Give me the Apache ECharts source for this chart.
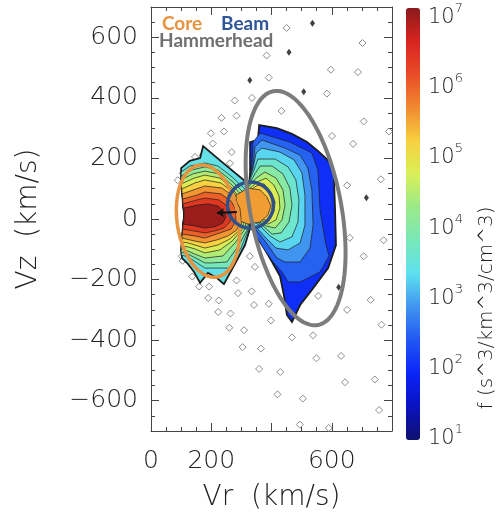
<!DOCTYPE html>
<html>
<head>
<meta charset="utf-8">
<script src="https://cdn.jsdelivr.net/npm/echarts@6.0.0/dist/echarts.min.js"></script>
<style>
  html, body { margin: 0; padding: 0; background: #fff; }
  #chart { width: 500px; height: 529px; }
</style>
</head>
<body>
<div id="chart"></div>
<script>
// axis ticks
const xTickLabels = [0, 200, 600];
const yTickValues = [-600, -400, -200, 0, 200, 400, 600];
const cbarTicks = [1, 2, 3, 4, 5, 6, 7];   // log10 f

// core contours: log10 f of each level and its outline [Vr, Vz] in km/s
const coreLogF = [3.4, 3.75, 4.1, 4.45, 4.8, 5.2, 5.6, 6.0, 6.4, 7.0];
const coreContours = [
  [[100,168],[129,192],[163,201],[173,241],[236,188],[312,125],[329,79],[329,-30],[312,-86],[282,-142],[242,-215],[219,-195],[189,-178],[163,-211],[143,-175],[123,-149],[103,-129],[100,-102],[103,-63],[106,-23],[110,13],[106,50],[103,89],[100,129]],
  [[100,155],[129,175],[179,185],[222,175],[269,139],[315,96],[325,30],[325,-30],[299,-96],[259,-162],[212,-162],[179,-162],[149,-142],[123,-125],[101,-119],[100,-102],[103,-63],[106,-23],[110,13],[106,50],[103,89],[100,129]],
  [[100,142],[136,162],[179,172],[222,162],[269,125],[312,83],[322,23],[322,-30],[292,-86],[252,-142],[202,-145],[179,-145],[149,-129],[123,-116],[100,-109],[100,-102],[103,-63],[106,-23],[110,13],[106,50],[103,89],[100,129]],
  [[100,129],[139,149],[179,158],[226,149],[269,112],[309,69],[319,20],[312,-33],[279,-79],[239,-122],[179,-129],[146,-116],[123,-106],[100,-99],[103,-63],[106,-23],[110,13],[106,50],[103,89]],
  [[101,116],[143,135],[179,145],[229,135],[272,99],[302,56],[312,13],[302,-36],[269,-73],[229,-102],[179,-112],[146,-99],[123,-92],[101,-89],[103,-63],[106,-23],[110,13],[106,50],[103,89]],
  [[102,99],[146,119],[179,129],[232,119],[276,86],[299,46],[305,7],[295,-36],[262,-66],[222,-86],[179,-96],[146,-86],[123,-79],[102,-76],[103,-63],[106,-23],[110,13],[106,50],[103,89]],
  [[104,83],[149,99],[179,109],[236,102],[276,73],[295,36],[299,0],[285,-36],[256,-56],[219,-69],[179,-79],[146,-73],[103,-63],[106,-23],[110,13],[106,50]],
  [[105,66],[153,79],[179,89],[232,83],[266,59],[282,30],[282,-7],[266,-33],[229,-46],[179,-63],[146,-56],[104,-50],[106,-23],[110,13],[106,50]],
  [[106,50],[153,63],[179,69],[226,63],[252,43],[266,20],[262,-10],[242,-30],[209,-40],[179,-46],[146,-40],[105,-33],[106,-23],[110,13]],
  [[108,36],[156,46],[189,50],[222,43],[242,26],[249,7],[239,-13],[212,-26],[179,-30],[146,-23],[107,-17],[110,13]]
];

// beam contours
const beamLogF = [2.0, 2.45, 2.85, 3.25, 3.6, 4.0, 4.4, 4.8, 5.2, 5.55];
const beamContours = [
  [[329,155],[329,254],[355,261],[359,310],[418,300],[468,281],[518,254],[554,225],[594,188],[607,145],[611,30],[614,-86],[588,-162],[534,-234],[495,-284],[468,-340],[451,-317],[441,-251],[428,-188],[402,-142],[375,-96],[349,-56],[329,-23],[322,63]],
  [[335,178],[339,254],[362,284],[461,254],[534,218],[554,162],[561,30],[581,-86],[591,-122],[561,-175],[495,-208],[455,-208],[435,-175],[405,-142],[368,-89],[342,-43],[319,13],[322,79]],
  [[339,178],[345,238],[368,261],[445,234],[495,211],[521,168],[534,96],[538,-20],[528,-96],[495,-142],[445,-142],[418,-129],[388,-86],[355,-43],[315,10],[319,86]],
  [[339,168],[349,218],[368,234],[428,221],[475,195],[501,152],[511,79],[511,-20],[495,-79],[455,-102],[415,-96],[382,-63],[352,-30],[312,10],[315,89]],
  [[342,162],[355,198],[412,198],[455,172],[481,129],[491,63],[488,-10],[468,-59],[428,-76],[395,-56],[362,-23],[312,13],[315,96]],
  [[345,149],[362,175],[402,175],[438,149],[461,102],[468,46],[458,-10],[432,-46],[402,-50],[372,-23],[312,17],[315,96]],
  [[349,135],[378,155],[415,135],[438,96],[445,46],[435,-3],[412,-30],[382,-23],[312,20],[315,96]],
  [[352,122],[382,135],[408,112],[425,76],[428,36],[415,-3],[388,-17],[312,23],[315,89]],
  [[349,109],[375,116],[398,89],[412,56],[408,23],[388,-3],[355,-3],[309,30],[312,83]],
  [[282,79],[322,102],[362,96],[385,73],[398,43],[388,13],[362,-10],[322,-17],[289,-3]]
];

// open diamonds (sparse samples) and black marks, [Vr, Vz]
const openPoints = [
  [450,631],[702,581],[384,540],[597,493],[687,485],[391,467],[584,414],[278,391],[335,400],[284,341],
  [234,334],[433,357],[706,322],[199,283],[242,289],[601,274],[790,289],[205,249],[671,248],[268,221],
  [172,211],[146,205],[262,184],[126,178],[105,151],[89,128],[651,111],[763,131],[660,-62],[772,-70],
  [706,-123],[102,-123],[105,-138],[137,-190],[328,-123],[345,-158],[284,-203],[160,-223],[193,-223],[289,-245],
  [334,-239],[190,-261],[225,-269],[342,-284],[391,-280],[555,-254],[729,-267],[651,-300],[223,-307],[264,-312],
  [398,-335],[765,-349],[260,-359],[309,-367],[468,-391],[538,-384],[304,-423],[365,-428],[549,-460],[631,-452],
  [359,-495],[429,-505],[644,-539],[743,-530],[420,-579],[504,-593],[757,-631],[494,-679],[590,-690]
];
const blackPoints = [[536,646],[458,551],[328,458],[507,420],[715,70],[623,-225]];
const arrowPath = [[285,23],[219,20]];

// population ellipses
const ellipseNames = ['Core', 'Beam', 'Hammerhead'];
const ellipseCenter = [[189,-7],[330,46],[480,36]];
const ellipseAxes = [[187,102],[76,76],[393,151]];
const ellipseTilt = [9, 0, 10.9];   // degrees

const ellipseColors = ['#e8933f', '#2f5088', '#7c7c7c'];
const ellipseWidths = [3.5, 3.5, 4];
const cbarColors = ['#10106e','#0a12c0','#0a24f8','#2058f2','#4094f0','#5ee0f0','#78e8b8',
                    '#9aea88','#d8f058','#f8d040','#f08a30','#e84c26','#d82420','#8a1a1a'];

const font = 'DejaVu Sans';
const axisCol = '#444';
const textCol = '#222';

let levels = [];
coreLogF.forEach((v, i) => levels.push({ v: v, pts: coreContours[i], outer: i === 0 }));
beamLogF.forEach((v, i) => levels.push({ v: v, pts: beamContours[i], outer: i === 0 }));
levels.sort((a, b) => a.v - b.v);
const contourData = levels.map((l, i) => [i, l.v]);

function drawContour(params, api) {
  const lv = levels[params.dataIndex];
  return {
    type: 'polygon',
    shape: { points: lv.pts.map(p => api.coord(p)) },
    style: { fill: api.visual('color'), stroke: '#1c1c1c', lineWidth: lv.outer ? 1.8 : 0.7 }
  };
}

function drawEllipse(params, api) {
  const i = params.dataIndex;
  const c = ellipseCenter[i], ax = ellipseAxes[i];
  const phi = ellipseTilt[i] * Math.PI / 180;
  const pts = [];
  for (let k = 0; k < 120; k++) {
    const t = k / 120 * 2 * Math.PI;
    const vr = c[0] - ax[0] * Math.cos(t) * Math.sin(phi) + ax[1] * Math.sin(t) * Math.cos(phi);
    const vz = c[1] + ax[0] * Math.cos(t) * Math.cos(phi) + ax[1] * Math.sin(t) * Math.sin(phi);
    pts.push(api.coord([vr, vz]));
  }
  return {
    type: 'polygon',
    shape: { points: pts },
    style: { fill: 'none', stroke: ellipseColors[i], lineWidth: ellipseWidths[i] }
  };
}

const tickStyle = { lineStyle: { color: axisCol, width: 1 } };

function frameX(pos, extra) {
  return Object.assign({
    type: 'value', gridIndex: 0, position: pos, min: 0, max: 800, interval: 200,
    axisLine: { onZero: false, lineStyle: { color: axisCol, width: 1 } },
    axisTick: Object.assign({ inside: true, length: 8 }, tickStyle),
    minorTick: Object.assign({ show: true, splitNumber: 4, length: 4 }, tickStyle),
    splitLine: { show: false },
    axisLabel: { show: false }
  }, extra);
}

function frameY(pos, major, extra) {
  const ax = {
    type: 'value', gridIndex: 0, position: pos, min: -700, max: 700,
    axisLine: { show: major, onZero: false, lineStyle: { color: axisCol, width: 1 } },
    splitLine: { show: false },
    axisLabel: { show: false }
  };
  if (major) {
    ax.axisTick = Object.assign({ inside: true, length: 8, customValues: yTickValues }, tickStyle);
  } else {
    ax.interval = 50;
    ax.axisTick = Object.assign({ inside: true, length: 4 }, tickStyle);
  }
  return Object.assign(ax, extra);
}

const chart = echarts.init(document.getElementById('chart'));

const option = {
  animation: false,
  backgroundColor: '#fff',
  grid: [
    { left: 151, top: 7, width: 241, height: 424 },
    { left: 406, top: 15, width: 14, height: 421.5 }
  ],
  xAxis: [
    frameX('bottom', {
      axisLabel: { show: true, customValues: xTickLabels, fontSize: 25, fontFamily: font, fontWeight: 200, color: textCol, margin: 18 },
      name: 'Vr  (km/s)', nameLocation: 'middle', nameGap: 53,
      nameTextStyle: { fontSize: 28, fontFamily: font, fontWeight: 200, color: textCol }
    }),
    frameX('top', {}),
    { type: 'value', gridIndex: 1, show: false, min: 0, max: 1 }
  ],
  yAxis: [
    frameY('left', true, {
      axisLabel: {
        show: true, customValues: yTickValues, fontSize: 25, fontFamily: font, fontWeight: 200, color: textCol, margin: 13,
        formatter: v => (v < 0 ? '\u2212' + (-v) : String(v))
      },
      name: 'Vz  (km/s)', nameLocation: 'middle', nameGap: 108, nameRotate: 90,
      nameTextStyle: { fontSize: 28, fontFamily: font, fontWeight: 200, color: textCol }
    }),
    frameY('left', false, {}),
    frameY('right', true, {}),
    frameY('right', false, {}),
    {
      type: 'value', gridIndex: 1, position: 'right', min: 1, max: 7, interval: 1,
      axisLine: { show: false }, axisTick: { show: false }, splitLine: { show: false },
      axisLabel: {
        margin: 8, customValues: cbarTicks,
        formatter: v => '{b|10}{e|' + v + '}',
        rich: {
          b: { fontSize: 21, fontFamily: font, fontWeight: 200, color: textCol, lineHeight: 26, verticalAlign: 'bottom' },
          e: { fontSize: 13, fontFamily: font, fontWeight: 200, color: textCol, lineHeight: 14, verticalAlign: 'top' }
        }
      }
    }
  ],
  visualMap: {
    type: 'continuous', min: 0.95, max: 7.1, dimension: 1, seriesIndex: 1,
    calculable: false, left: 406, top: 8, itemWidth: 14, itemHeight: 432, padding: 0,
    inRange: { color: cbarColors }
  },
  series: [
    {
      type: 'scatter', xAxisIndex: 0, yAxisIndex: 0, data: openPoints, symbol: 'diamond', symbolSize: 7,
      itemStyle: { color: '#fff', borderColor: '#707070', borderWidth: 1 }, z: 1, silent: true
    },
    {
      type: 'custom', name: 'f', xAxisIndex: 0, yAxisIndex: 0, data: contourData,
      renderItem: drawContour, z: 2, silent: true
    },
    {
      type: 'scatter', xAxisIndex: 0, yAxisIndex: 0, data: blackPoints, symbol: 'diamond', symbolSize: [5, 7],
      itemStyle: { color: '#111' }, z: 3, silent: true
    },
    {
      type: 'custom', name: 'populations', xAxisIndex: 0, yAxisIndex: 0,
      data: ellipseCenter.map((c, i) => [c[0], c[1], ellipseNames[i]]),
      renderItem: drawEllipse, z: 4, silent: true
    },
    {
      type: 'lines', coordinateSystem: 'cartesian2d', xAxisIndex: 0, yAxisIndex: 0,
      data: [{ coords: arrowPath }], symbol: ['none', 'arrow'], symbolSize: 7,
      lineStyle: { color: '#111', width: 2, opacity: 1 }, z: 5, silent: true
    }
  ],
  graphic: [
    { type: 'text', left: 162, top: 14, z: 10, style: { text: 'Core', fill: '#e8913e', fontSize: 19, fontWeight: 'bold', fontFamily: 'Lato' } },
    { type: 'text', left: 221, top: 14, z: 10, style: { text: 'Beam', fill: '#2e5597', fontSize: 19, fontWeight: 'bold', fontFamily: 'Lato' } },
    { type: 'text', left: 159, top: 31, z: 10, style: { text: 'Hammerhead', fill: '#6f6f6f', fontSize: 19, fontWeight: 'bold', fontFamily: 'Lato' } },
    {
      type: 'text', x: 487, y: 308, rotation: Math.PI / 2, z: 10,
      style: { text: 'f (s^3/km^3/cm^3)', fill: textCol, fontSize: 20, fontFamily: font, fontWeight: 200, textAlign: 'center', textVerticalAlign: 'middle' }
    }
  ]
};

chart.setOption(option);
</script>
</body>
</html>
